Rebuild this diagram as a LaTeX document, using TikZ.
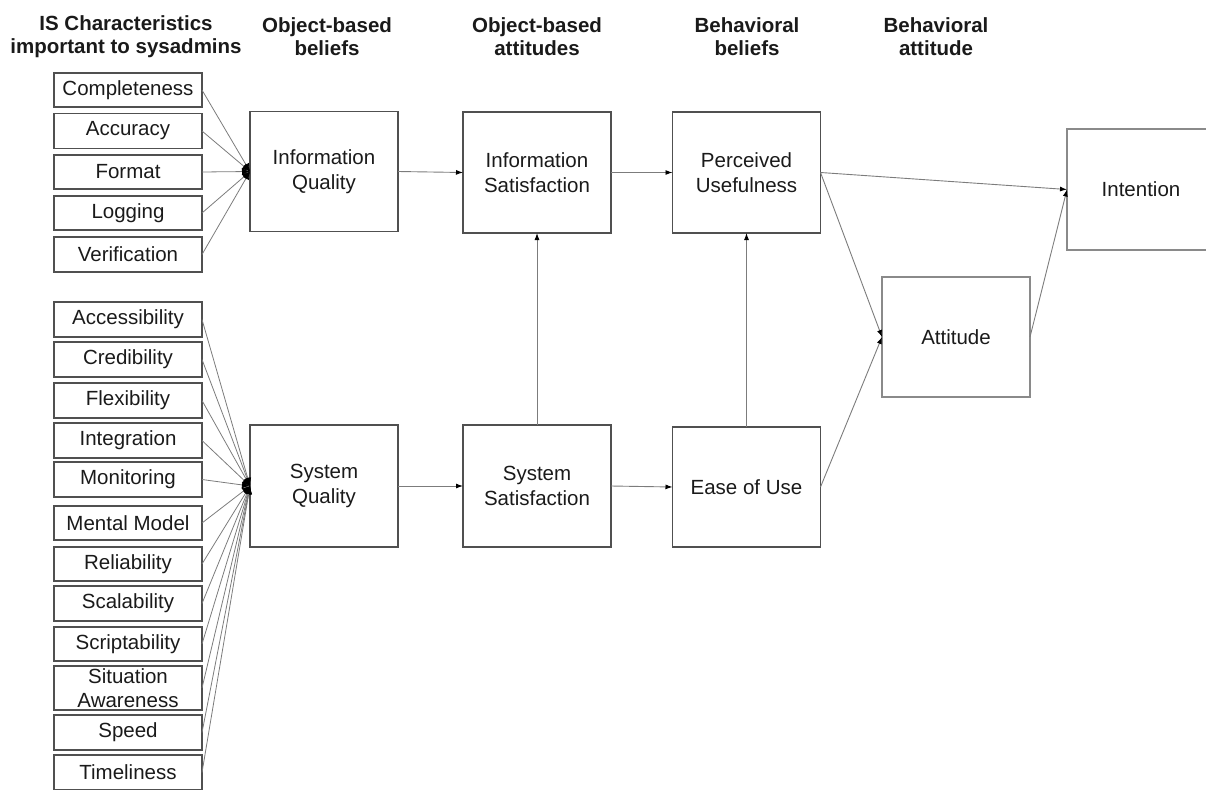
\documentclass[tikz,border=0pt]{standalone}
\usepackage{fontspec}
\setmainfont{Liberation Sans}
\usetikzlibrary{arrows.meta}
\definecolor{boxline}{HTML}{505050}
\definecolor{lightbox}{HTML}{8A8A8A}
\definecolor{connline}{HTML}{7C7C7C}
\definecolor{txt}{HTML}{1A1A1A}
\begin{document}
\begin{tikzpicture}[x=1pt,y=-1pt,
 every node/.style={font=\fontsize{20.5}{24.5}\selectfont, text=txt, inner sep=0pt, outer sep=0pt, align=center},
 hdr/.style={font=\fontsize{20.5}{23}\selectfont\bfseries},
 sbox/.style={draw=boxline, line width=1.4pt, minimum width=148pt, minimum height=34pt},
 bbox/.style={draw=boxline, line width=1.5pt, minimum width=148pt, minimum height=121pt},
 lbox/.style={draw=lightbox, line width=1.1pt, minimum width=148pt, minimum height=121pt},
 feed/.style={draw=connline, line width=0.8pt, -{Latex[black,length=8pt,width=7pt]}},
 conn/.style={draw=connline, line width=0.9pt, -{Latex[black,length=7pt,width=5pt]}}]
\useasboundingbox (0,0) rectangle (1206,789);
\clip (0,0) rectangle (1206,789);
% headers
\node[hdr] (h1) at (126,37) {IS Characteristics\\important to sysadmins};
\node[hdr] (h2) at (327,37) {Object-based\\beliefs};
\node[hdr] (h3) at (537,37) {Object-based\\attitudes};
\node[hdr] (h4) at (747,37) {Behavioral\\beliefs};
\node[hdr] (h5) at (936,37) {Behavioral\\attitude};
% main boxes
\node[bbox, minimum height=120pt] (iq) at (324,171.5) {Information\\Quality};
\node[bbox, minimum height=122pt] (sq) at (324,486) {System\\Quality};
\node[bbox] (is) at (537,172.5) {Information\\Satisfaction};
\node[bbox, minimum height=122pt] (ss) at (537,486) {System\\Satisfaction};
\node[bbox] (pu) at (746.5,172.5) {Perceived\\Usefulness};
\node[bbox, minimum height=120pt] (eou) at (746.5,487) {Ease of Use};
\node[lbox, minimum height=120pt] (att) at (956,337) {Attitude};
\node[lbox] (int) at (1141,189.5) {Intention};
% information characteristics
\node[sbox] (c1) at (128,90) {Completeness};
\node[sbox, minimum height=35pt] (c2) at (128,131) {Accuracy};
\node[sbox] (c3) at (128,172) {Format};
\node[sbox] (c4) at (128,213) {Logging};
\node[sbox, minimum height=35pt] (c5) at (128,254.5) {Verification};
% system characteristics
\node[sbox, minimum height=35pt] (s1) at (128,319.5) {Accessibility};
\node[sbox, minimum height=35pt] (s2) at (128,359.5) {Credibility};
\node[sbox, minimum height=35pt] (s3) at (128,400.5) {Flexibility};
\node[sbox, minimum height=35pt] (s4) at (128,440.5) {Integration};
\node[sbox, minimum height=35pt] (s5) at (128,479.5) {Monitoring};
\node[sbox] (s6) at (128,523) {Mental Model};
\node[sbox] (s7) at (128,564) {Reliability};
\node[sbox, minimum height=35pt] (s8) at (128,603.5) {Scalability};
\node[sbox] (s9) at (128,644) {Scriptability};
\node[sbox, minimum height=44pt] (s10) at (128,688) {Situation\\Awareness};
\node[sbox, minimum height=35pt] (s11) at (128,732.5) {Speed};
\node[sbox, minimum height=35pt] (s12) at (128,772.5) {Timeliness};
% feeders
\foreach \n in {c1,c2,c3,c4,c5} \draw[feed] (\n.east) -- (iq.west);
\foreach \n in {s1,s2,s3,s4,s5,s6,s7,s8,s9,s10,s11,s12} \draw[feed] (\n.east) -- (sq.west);
% main connectors
\draw[conn] (iq.east) -- (is.west);
\draw[conn] (is.east) -- (pu.west);
\draw[conn] (sq.east) -- (ss.west);
\draw[conn] (ss.east) -- (eou.west);
\draw[conn] (ss.north) -- (is.south);
\draw[conn] (eou.north) -- (pu.south);
\draw[conn] (pu.east) -- (int.west);
\draw[conn] (pu.east) -- (att.west);
\draw[conn] (eou.east) -- (att.west);
\draw[conn] (att.east) -- (int.west);
\end{tikzpicture}
\end{document}
